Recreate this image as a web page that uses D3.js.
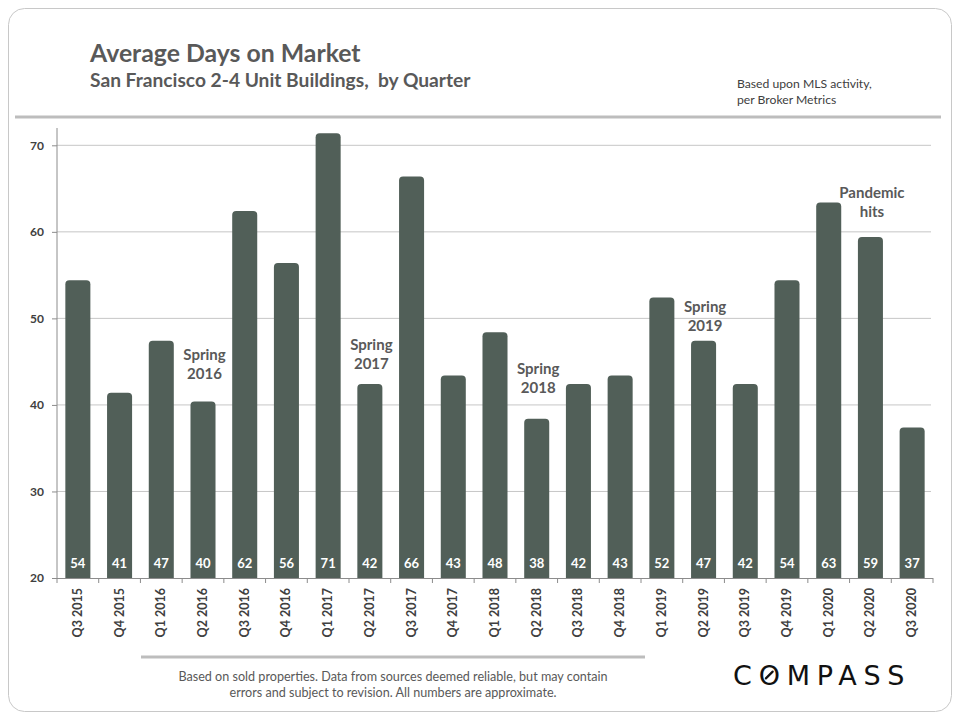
<!DOCTYPE html>
<html>
<head>
<meta charset="utf-8">
<script src="https://cdn.jsdelivr.net/npm/d3@7"></script>
<style>
  body { margin: 0; background: #fff; }
  text { font-family: Lato, "Open Sans", sans-serif; }
</style>
</head>
<body>
<div class="DaysChart"></div>
<script>
// quarters on the x axis
const quarters = ["Q3 2015", "Q4 2015", "Q1 2016", "Q2 2016", "Q3 2016", "Q4 2016",
  "Q1 2017", "Q2 2017", "Q3 2017", "Q4 2017", "Q1 2018", "Q2 2018", "Q3 2018",
  "Q4 2018", "Q1 2019", "Q2 2019", "Q3 2019", "Q4 2019", "Q1 2020", "Q2 2020", "Q3 2020"];
// average days on market
const daysOnMarket = [54, 41, 47, 40, 62, 56, 71, 42, 66, 43, 48, 38, 42, 43, 52, 47, 42, 54, 63, 59, 37];
const yTicks = [20, 30, 40, 50, 60, 70];
// notes above bars: quarter, text lines, level (in days) of the first line
const notes = [
  { quarter: "Q2 2016", lines: ["Spring", "2016"], at: 45.2 },
  { quarter: "Q2 2017", lines: ["Spring", "2017"], at: 46.3 },
  { quarter: "Q2 2018", lines: ["Spring", "2018"], at: 43.6 },
  { quarter: "Q2 2019", lines: ["Spring", "2019"], at: 50.7 },
  { quarter: "Q2 2020", lines: ["Pandemic", "hits"], at: 63.9 }
];

const W = 960, H = 720;
let margin = {top: 128, right: 27, bottom: 142, left: 57},
    width = W - margin.left - margin.right,
    height = H - margin.top - margin.bottom;

let root = d3.select(".DaysChart").append("svg")
    .attr("width", W).attr("height", H);

// card frame
root.append("rect")
    .attr("x", 8.5).attr("y", 8.5).attr("width", 943).attr("height", 703)
    .attr("rx", 16).attr("fill", "none").attr("stroke", "#c8c8c8").attr("stroke-width", 1);

// headings
root.append("text").attr("x", 90).attr("y", 62)
    .attr("fill", "#595959").attr("font-size", 24.8).attr("font-weight", 700)
    .text("Average Days on Market");
root.append("text").attr("x", 90).attr("y", 87)
    .attr("fill", "#595959").attr("font-size", 19.2).attr("font-weight", 700)
    .attr("xml:space", "preserve")
    .text("San Francisco 2-4 Unit Buildings,  by Quarter");
root.append("text").attr("x", 737).attr("y", 88)
    .attr("fill", "#404040").attr("font-size", 12.2)
    .text("Based upon MLS activity,");
root.append("text").attr("x", 737).attr("y", 104)
    .attr("fill", "#404040").attr("font-size", 12.2)
    .text("per Broker Metrics");
root.append("line").attr("x1", 15).attr("x2", 941).attr("y1", 117).attr("y2", 117)
    .attr("stroke", "#bdbdbd").attr("stroke-width", 3);

let svg = root.append("g")
    .attr("transform", "translate(" + margin.left + "," + margin.top + ")");

let x = d3.scaleBand().domain(quarters).range([0, width]).paddingInner(0.4).paddingOuter(0.2);
let y = d3.scaleLinear().domain([20, 72]).range([height, 0]);

// gridlines
svg.append("g").selectAll("line").data(yTicks.slice(1)).join("line")
    .attr("x1", 0).attr("x2", width - 2)
    .attr("y1", d => y(d)).attr("y2", d => y(d))
    .attr("stroke", "#c6c6c6").attr("stroke-width", 1);

// y axis
let yAxis = svg.append("g")
    .call(d3.axisLeft(y).tickValues(yTicks).tickSize(5).tickPadding(8))
    .call(g => g.select(".domain").attr("stroke", "#8c8c8c").attr("d", "M0," + (height + 0.5) + "V0"));
yAxis.selectAll(".tick line").attr("stroke", "#8c8c8c");
yAxis.selectAll("text").attr("fill", "#404040").attr("font-size", 12).attr("font-weight", 700)
    .style("font-family", "Lato, sans-serif");

// x axis with ticks on band edges
let xAxis = svg.append("g").attr("transform", "translate(0," + height + ")");
xAxis.append("line").attr("x1", 0).attr("x2", width).attr("y1", 0.5).attr("y2", 0.5)
    .attr("stroke", "#8c8c8c");
xAxis.selectAll(".edge").data(d3.range(quarters.length + 1)).join("line")
    .attr("class", "edge")
    .attr("x1", i => i * x.step()).attr("x2", i => i * x.step())
    .attr("y1", 0).attr("y2", 5).attr("stroke", "#8c8c8c");
xAxis.selectAll(".lbl").data(quarters).join("text")
    .attr("class", "lbl")
    .attr("transform", d => "translate(" + (x(d) + x.bandwidth() / 2 + 4) + ",10) rotate(-90)")
    .attr("text-anchor", "end")
    .attr("fill", "#404040").attr("font-size", 12.5).attr("font-weight", 700)
    .text(d => d);

// bars, rounded top
const r = 4;
svg.append("g").selectAll("path").data(quarters).join("path")
    .attr("fill", "#515f58")
    .attr("d", (q, i) => {
      let x0 = x(q), x1 = x(q) + x.bandwidth(), top = y(daysOnMarket[i]) - 3.5, bot = height;
      return "M" + x0 + "," + bot + "V" + (top + r) + "Q" + x0 + "," + top + " " + (x0 + r) + "," + top +
        "H" + (x1 - r) + "Q" + x1 + "," + top + " " + x1 + "," + (top + r) + "V" + bot + "Z";
    });

// value labels at the bottom of bars
svg.append("g").selectAll("text").data(quarters).join("text")
    .attr("x", q => x(q) + x.bandwidth() / 2)
    .attr("y", height - 10)
    .attr("text-anchor", "middle")
    .attr("fill", "#fff").attr("font-size", 13).attr("font-weight", 700)
    .text((q, i) => daysOnMarket[i]);

// notes above bars
notes.forEach(n => {
  let cx = x(n.quarter) + x.bandwidth() / 2 + 1.5;
  let t = svg.append("text")
      .attr("x", cx)
      .attr("y", y(n.at))
      .attr("text-anchor", "middle")
      .attr("fill", "#595959").attr("font-size", 15).attr("font-weight", 700);
  n.lines.forEach((l, k) => t.append("tspan")
      .attr("x", cx)
      .attr("dy", k ? 19 : 0).text(l));
});

// footer
root.append("line").attr("x1", 141).attr("x2", 645).attr("y1", 657).attr("y2", 657)
    .attr("stroke", "#bdbdbd").attr("stroke-width", 3);
root.append("text").attr("x", 393).attr("y", 681).attr("text-anchor", "middle")
    .attr("fill", "#595959").attr("font-size", 12.6)
    .text("Based on sold properties. Data from sources deemed reliable, but may contain");
root.append("text").attr("x", 393).attr("y", 697).attr("text-anchor", "middle")
    .attr("fill", "#595959").attr("font-size", 12.6)
    .text("errors and subject to revision. All numbers are approximate.");

// logo
const ls = 6.8;
let logo = root.append("text").attr("x", 733).attr("y", 685)
    .attr("fill", "#111").attr("font-size", 27).attr("letter-spacing", ls)
    .style("font-family", "'DejaVu Sans', sans-serif")
    .text("COMPASS");
let ob = logo.node().getExtentOfChar(1);
let ocx = ob.x + (ob.width - ls) / 2, ocy = 685 - 10;
root.append("line")
    .attr("x1", ocx - 3.4).attr("y1", ocy + 3.4).attr("x2", ocx + 3.4).attr("y2", ocy - 3.4)
    .attr("stroke", "#111").attr("stroke-width", 2.2).attr("stroke-linecap", "round");
</script>
</body>
</html>
